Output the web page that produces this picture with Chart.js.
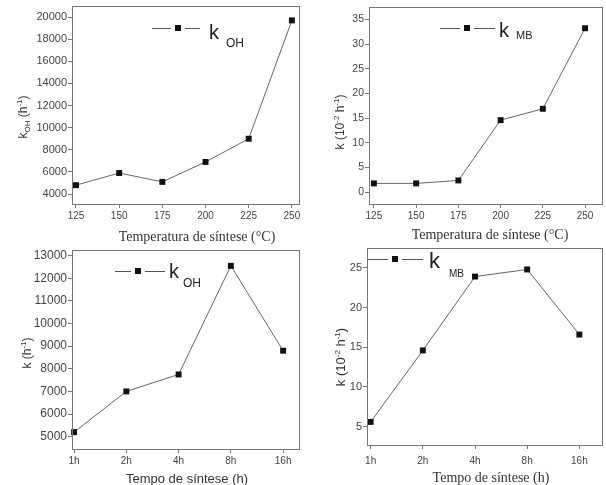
<!DOCTYPE html>
<html>
<head>
<meta charset="utf-8">
<script src="https://cdn.jsdelivr.net/npm/chart.js@4.4.1/dist/chart.umd.min.js"></script>
<style>
    body { margin: 0; background: #fff; }
    #wrap { position: relative; width: 606px; height: 485px; overflow: hidden; background: #fff; }
    canvas { position: absolute; }
</style>
</head>
<body>
<div id="wrap">
    <canvas id="c1" width="303" height="250" style="left:0;top:0"></canvas>
    <canvas id="c2" width="303" height="250" style="left:303px;top:0"></canvas>
    <canvas id="c3" width="303" height="250" style="left:0;top:242px"></canvas>
    <canvas id="c4" width="303" height="250" style="left:303px;top:242px"></canvas>
</div>
<script>
// Data
const tempLabels = [125, 150, 175, 200, 225, 250];
const kOHTemp = [4800, 5900, 5100, 6900, 9000, 19700];
const kMBTemp = [1.8, 1.8, 2.4, 14.6, 16.9, 33.2];

const timeLabels = ['1h', '2h', '4h', '8h', '16h'];
const timeIndex = [0, 1, 2, 3, 4];
const kOHTime = [5200, 7000, 7750, 12550, 8800];
const kMBTime = [5.6, 14.6, 23.9, 24.8, 16.6];

const yTicksOHTemp = [4000, 6000, 8000, 10000, 12000, 14000, 16000, 18000, 20000];
const yTicksMBTemp = [0, 5, 10, 15, 20, 25, 30, 35];
const yTicksOHTime = [5000, 6000, 7000, 8000, 9000, 10000, 11000, 12000, 13000];
const yTicksMBTime = [5, 10, 15, 20, 25];

const SANS = '"Liberation Sans", Arial, sans-serif';
const SERIF = '"Liberation Serif", "Times New Roman", serif';

function drawRich(ctx, parts, x, y, family, align) {
    let w = 0;
    parts.forEach(p => {
        ctx.font = p.s + 'px ' + family;
        w += ctx.measureText(p.t).width;
    });
    let cx = align === 'center' ? x - w / 2 : x;
    parts.forEach(p => {
        ctx.font = p.s + 'px ' + family;
        ctx.fillText(p.t, cx, y + (p.dy || 0));
        cx += ctx.measureText(p.t).width;
    });
}

// frame, axis titles and the little legend
function textPlugin(t) {
    return {
        id: 'panelText',
        afterDraw(chart) {
            const ctx = chart.ctx;
            const a = chart.chartArea;
            ctx.save();
            ctx.strokeStyle = '#777';
            ctx.lineWidth = 1;
            ctx.strokeRect(Math.round(a.left) + 0.5, Math.round(a.top) + 0.5,
                Math.round(a.right - a.left), Math.round(a.bottom - a.top));

            ctx.fillStyle = '#333';
            ctx.textAlign = 'left';
            ctx.textBaseline = 'alphabetic';

            // x title
            drawRich(ctx, t.xTitle.parts, t.xTitle.x, t.xTitle.y, t.xTitle.family, 'center');

            // y title (rotated)
            ctx.save();
            ctx.translate(t.yTitle.x, t.yTitle.y);
            ctx.rotate(-Math.PI / 2);
            drawRich(ctx, t.yTitle.parts, 0, 0, SANS, 'center');
            ctx.restore();

            // legend
            const L = t.legend;
            ctx.strokeStyle = '#555';
            ctx.beginPath();
            ctx.moveTo(L.x1, L.my + 0.5);
            ctx.lineTo(L.mx - 7, L.my + 0.5);
            ctx.moveTo(L.mx + 7, L.my + 0.5);
            ctx.lineTo(L.x2, L.my + 0.5);
            ctx.stroke();
            ctx.fillStyle = '#111';
            ctx.fillRect(L.mx - 3, L.my - 3, 6, 6);
            ctx.fillStyle = '#222';
            ctx.font = L.ks + 'px ' + SANS;
            ctx.fillText('k', L.kx, L.ky);
            ctx.font = L.ss + 'px ' + SANS;
            ctx.fillText(L.sub, L.sx, L.sy);
            ctx.restore();
        }
    };
}

function makePanel(id, p) {
    const canvas = document.getElementById(id);
    const W = canvas.width;
    return new Chart(canvas, {
        type: 'line',
        data: {
            datasets: [{
                data: p.xs.map((x, i) => ({ x: x, y: p.ys[i] })),
                borderColor: '#666',
                borderWidth: 1,
                pointStyle: 'rect',
                pointRadius: 4.2,
                pointBackgroundColor: '#111',
                pointBorderColor: '#111',
                pointBorderWidth: 0,
                tension: 0,
                clip: false
            }]
        },
        options: {
            responsive: false,
            animation: false,
            devicePixelRatio: 1,
            layout: { padding: { left: 0, top: p.area.t, right: W - p.area.r, bottom: 0 } },
            plugins: { legend: { display: false }, tooltip: { enabled: false } },
            scales: {
                x: {
                    type: 'linear',
                    min: p.xMin,
                    max: p.xMax,
                    afterBuildTicks: s => { s.ticks = p.xTicks.map(v => ({ value: v })); },
                    ticks: { callback: p.xFmt, font: { family: SANS, size: 10 }, color: '#444', padding: p.xPad, maxRotation: 0, autoSkip: false },
                    grid: { drawOnChartArea: false, tickLength: 4, color: '#777' },
                    border: { display: false },
                    afterFit: s => { s.height = 250 - p.area.b; s.paddingLeft = 0; s.paddingRight = 0; }
                },
                y: {
                    type: 'linear',
                    min: p.yMin,
                    max: p.yMax,
                    afterBuildTicks: s => { s.ticks = p.yTicks.map(v => ({ value: v })); },
                    ticks: { callback: v => String(v), font: { family: SANS, size: p.yFont }, color: '#444', padding: 1 },
                    grid: { drawOnChartArea: false, tickLength: 4, color: '#777' },
                    border: { display: false },
                    afterFit: s => { s.width = p.area.l; s.paddingTop = 0; s.paddingBottom = 0; }
                }
            }
        },
        plugins: [textPlugin(p.text)]
    });
}

const supM1 = { t: '-1', s: 8, dy: -5 };

makePanel('c1', {
    xs: tempLabels, ys: kOHTemp, xTicks: tempLabels, xFmt: v => String(v), xPad: 2,
    xMin: 122.7, xMax: 254, yMin: 3100, yMax: 21000, yTicks: yTicksOHTemp, yFont: 11,
    area: { l: 72, r: 302, t: 6, b: 204 },
    text: {
        xTitle: { x: 197, y: 241, family: SERIF, parts: [{ t: 'Temperatura de síntese (°C)', s: 14 }] },
        yTitle: { x: 27, y: 117, parts: [{ t: 'k', s: 12 }, { t: 'OH', s: 8, dy: 3 }, { t: ' (h', s: 12 }, supM1, { t: ')', s: 12 }] },
        legend: { x1: 152, x2: 200, mx: 178, my: 28, kx: 209, ky: 39, ks: 20, sub: 'OH', sx: 226, sy: 47, ss: 12 }
    }
});

makePanel('c2', {
    xs: tempLabels, ys: kMBTemp, xTicks: tempLabels, xFmt: v => String(v), xPad: 2,
    xMin: 122.1, xMax: 259.9, yMin: -2.37, yMax: 37.5, yTicks: yTicksMBTemp, yFont: 10.5,
    area: { l: 66, r: 303, t: 7, b: 204 },
    text: {
        xTitle: { x: 187, y: 239, family: SERIF, parts: [{ t: 'Temperatura de síntese (°C)', s: 14 }] },
        yTitle: { x: 41, y: 122, parts: [{ t: 'k (10', s: 12 }, { t: '-2', s: 8, dy: -5 }, { t: ' h', s: 12 }, supM1, { t: ')', s: 12 }] },
        legend: { x1: 137, x2: 192, mx: 164, my: 28, kx: 196, ky: 37, ks: 20, sub: 'MB', sx: 213, sy: 39, ss: 11 }
    }
});

makePanel('c3', {
    xs: timeIndex, ys: kOHTime, xTicks: timeIndex, xFmt: v => timeLabels[v], xPad: 2,
    xMin: -0.04, xMax: 4.3, yMin: 4456, yMax: 13250, yTicks: yTicksOHTime, yFont: 12,
    area: { l: 72, r: 302, t: 8, b: 207 },
    text: {
        xTitle: { x: 187, y: 241, family: SANS, parts: [{ t: 'Tempo de síntese (h)', s: 13 }] },
        yTitle: { x: 31, y: 111, parts: [{ t: 'k (h', s: 12 }, supM1, { t: ')', s: 12 }] },
        legend: { x1: 115, x2: 165, mx: 138, my: 29, kx: 169, ky: 36, ks: 20, sub: 'OH', sx: 183, sy: 45, ss: 12 }
    }
});

makePanel('c4', {
    xs: timeIndex, ys: kMBTime, xTicks: timeIndex, xFmt: v => timeLabels[v], xPad: 6,
    xMin: -0.07, xMax: 4.43, yMin: 2.69, yMax: 27.5, yTicks: yTicksMBTime, yFont: 11,
    area: { l: 64, r: 303, t: 6, b: 203 },
    text: {
        xTitle: { x: 188, y: 240, family: SERIF, parts: [{ t: 'Tempo de síntese (h)', s: 14 }] },
        yTitle: { x: 42, y: 115, parts: [{ t: 'k (10', s: 13 }, { t: '-2', s: 8, dy: -5 }, { t: ' h', s: 13 }, supM1, { t: ')', s: 13 }] },
        legend: { x1: 65, x2: 120, mx: 92, my: 17, kx: 126, ky: 26, ks: 22, sub: 'MB', sx: 146, sy: 35, ss: 10 }
    }
});
</script>
</body>
</html>
